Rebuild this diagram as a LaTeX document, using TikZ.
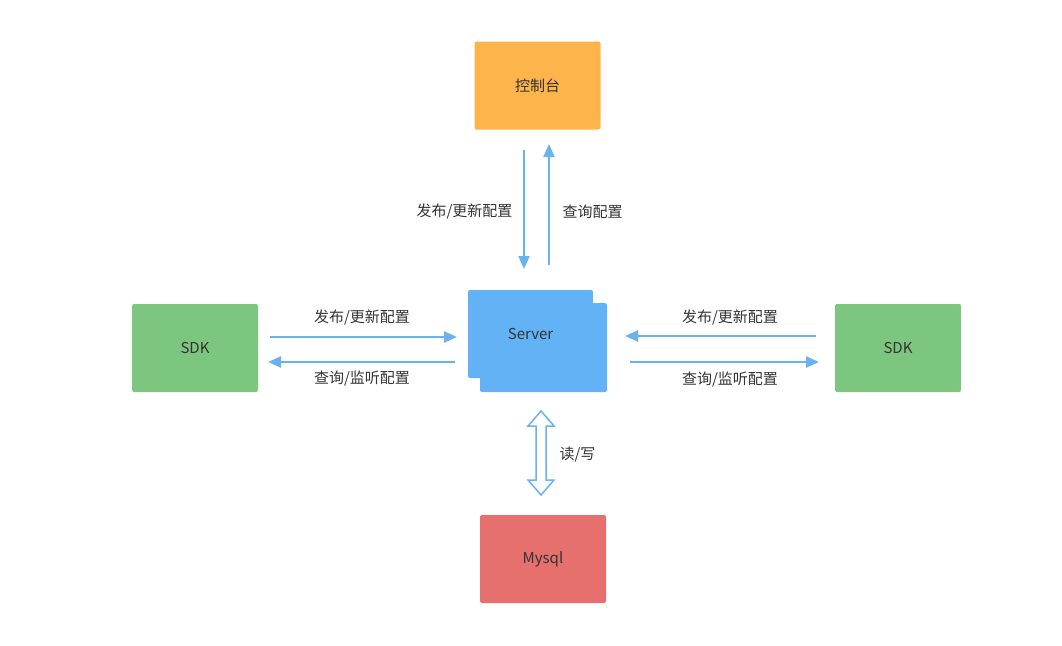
\documentclass[tikz,border=0pt]{standalone}
\usepackage{fontspec}
\setmainfont{Noto Sans CJK SC}
\usetikzlibrary{arrows.meta}
\definecolor{ac}{HTML}{6AB2EE}
\definecolor{tx}{HTML}{333333}
\definecolor{cor}{HTML}{FDB44B}
\definecolor{cbl}{HTML}{63B2F5}
\definecolor{cgr}{HTML}{7DC67F}
\definecolor{crd}{HTML}{E5706E}
\begin{document}
\begin{tikzpicture}[x=1pt,y=-1pt,
  box/.style={draw=none,rounded corners=2pt,minimum width=126pt,minimum height=88pt,font=\fontsize{15}{17}\selectfont,text=tx},
  arr/.style={draw=ac,line width=2.2pt,-{Triangle[length=13pt,width=11pt]}},
  lab/.style={font=\fontsize{15}{17}\selectfont,text=tx}]
\useasboundingbox (0,0) rectangle (1062,645);
\node[box,fill=cor] (con) at (537.5,85.5) {\raisebox{-3pt}{控制台}};
\fill[cbl, rounded corners=2pt] (480,303) rectangle (607,392);
\node[box,fill=cbl,minimum width=125pt] (srv) at (530.5,334) {\raisebox{0pt}{Server}};
\node[box,fill=cgr] (sdkl) at (195,348) {\raisebox{-3pt}{SDK}};
\node[box,fill=cgr] (sdkr) at (898,348) {\raisebox{-3pt}{SDK}};
\node[box,fill=crd] (my) at (543,559) {\raisebox{-3pt}{Mysql}};
\coordinate (d1) at (524,150); \coordinate (d2) at (524,269);
\coordinate (u1) at (549,265); \coordinate (u2) at (549,144);
\draw[arr] (d1) -- (d2);
\draw[arr] (u1) -- (u2);
\node[lab,anchor=east] (l1) at (516,212) {发布/更新配置};
\node[lab,anchor=west] (l2) at (559,212) {查询配置};
\coordinate (a1) at (270,337); \coordinate (a2) at (457,337);
\coordinate (b1) at (455,362); \coordinate (b2) at (268,362);
\draw[arr] (a1) -- (a2);
\draw[arr] (b1) -- (b2);
\node[lab] (l3) at (362,318) {发布/更新配置};
\node[lab] (l4) at (362,379) {查询/监听配置};
\coordinate (c1) at (816,336); \coordinate (c2) at (625,336);
\coordinate (e1) at (630,362); \coordinate (e2) at (819,362);
\draw[arr] (c1) -- (c2);
\draw[arr] (e1) -- (e2);
\node[lab] (l5) at (730,318) {发布/更新配置};
\node[lab] (l6) at (730,380) {查询/监听配置};
\draw[draw=ac,line width=1.5pt,fill=white,line join=miter] (541,411) -- (554,426) -- (546,426) -- (546,480) -- (554,480) -- (541,495) -- (528,480) -- (536,480) -- (536,426) -- (528,426) -- cycle;
\node[lab,anchor=west] (l7) at (556,455) {读/写};
\end{tikzpicture}
\end{document}
